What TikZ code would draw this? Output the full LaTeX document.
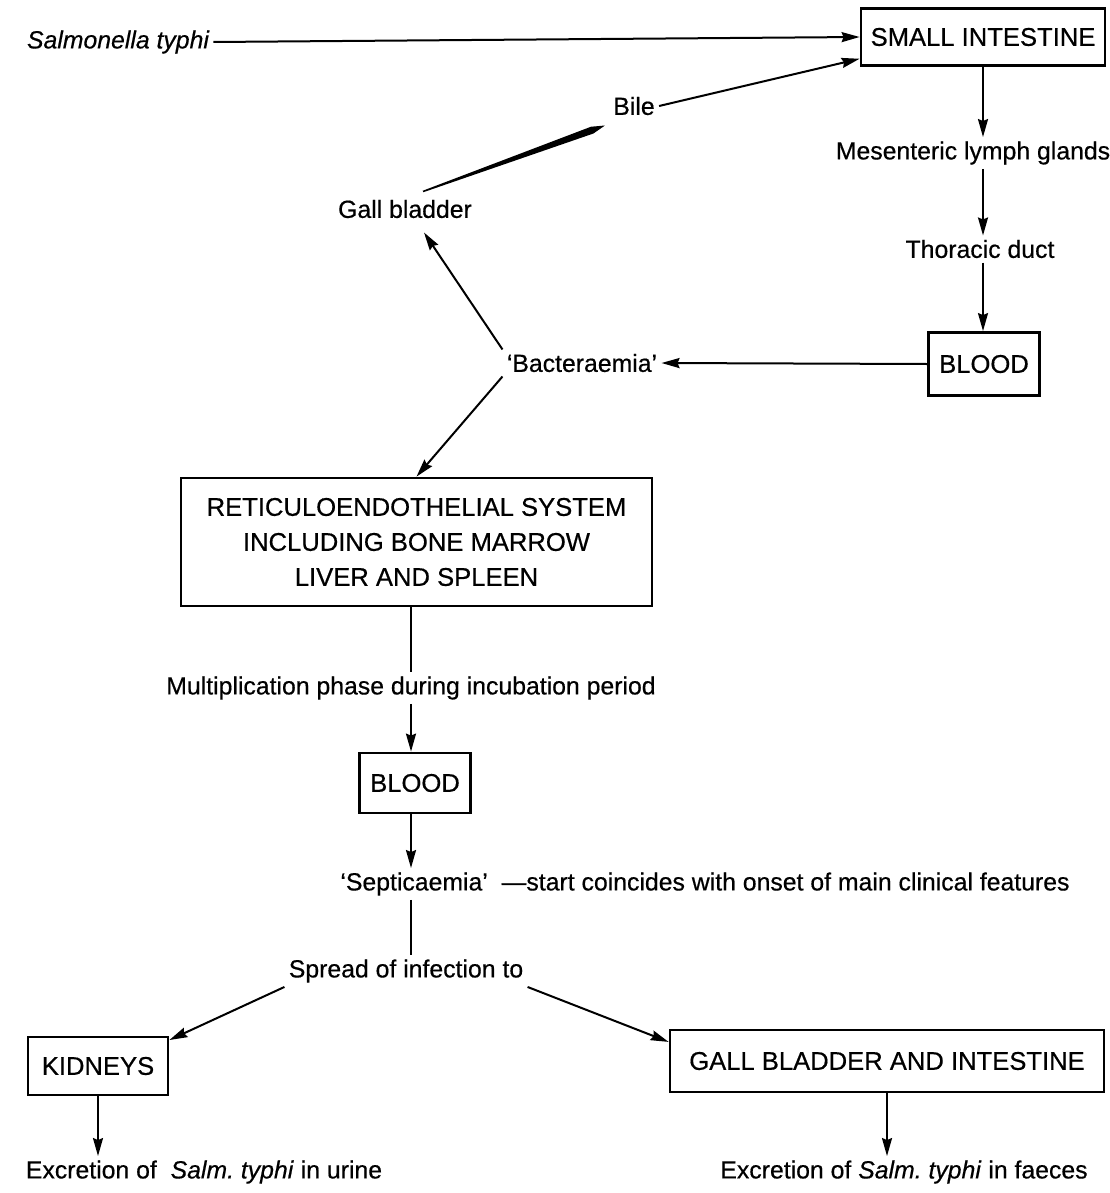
\documentclass[tikz,border=0pt]{standalone}
\usepackage{fontspec}
\setmainfont{Liberation Sans}[FakeBold=0.5]
\usepackage{tikz}
\usetikzlibrary{arrows.meta, positioning, calc}

\begin{document}
\begin{tikzpicture}[
    x=0.5pt, y=-0.5pt,
    organ/.style={rectangle, draw, line width=1.4pt, inner sep=0pt, font=\fontsize{12.8}{17.5}\selectfont, align=center},
    stage/.style={inner sep=2pt, font=\fontsize{12.4}{14}\selectfont},
    arr/.style={-{Stealth[length=9pt, width=5pt, inset=1pt]}, line width=1pt},
    link/.style={line width=1pt}
]
\useasboundingbox (0,0) rectangle (1109,1193);

% Entry and lymphatic route
\node[stage, font=\fontsize{12.4}{14}\selectfont\itshape] (salm) at (118,42) {Salmonella typhi};
\node[organ, minimum width=122pt, minimum height=28.5pt] (smallint) at (983,37) {SMALL INTESTINE};
\node[stage] (mes) at (973,153) {Mesenteric lymph glands};
\node[stage] (thor) at (980,249) {Thoracic duct};
\node[organ, minimum width=55.5pt, minimum height=31.5pt] (blood1) at (984,364) {BLOOD};

% Bacteraemia and bile loop
\node[stage] (bact) at (582,363) {‘Bacteraemia’};
\node[stage] (gall) at (405,209) {Gall bladder};
\node[stage] (bile) at (634,106) {Bile};

% Incubation
\node[organ, minimum width=235.5pt, minimum height=64pt] (res) at (416.5,542) {RETICULOENDOTHELIAL SYSTEM\\INCLUDING BONE MARROW\\LIVER AND SPLEEN};
\node[stage] (mult) at (411,688) {Multiplication phase during incubation period};
\node[organ, minimum width=55.5pt, minimum height=30pt] (blood2) at (415,783) {BLOOD};
\node[stage, anchor=west] (sept) at (336,884) {‘Septicaemia’ \ —start coincides with onset of main clinical features};
\node[stage] (spread) at (406,971) {Spread of infection to};

% Excretion
\node[organ, minimum width=70pt, minimum height=29pt] (kidneys) at (98,1066) {KIDNEYS};
\node[organ, minimum width=217pt, minimum height=31pt] (gbi) at (887,1061) {GALL BLADDER AND INTESTINE};
\node[stage] (urine) at (204,1172) {Excretion of \ \textit{Salm.\ typhi} in urine};
\node[stage] (faeces) at (904,1172) {Excretion of \textit{Salm.\ typhi} in faeces};

% Connections
\draw[arr] (salm.east) -- (smallint.west);
\draw[arr] (bile.east) -- (smallint.190);
\draw[arr] (smallint.south) -- (smallint.south |- mes.north);
\draw[arr] (mes.south -| smallint.south) -- (thor.north -| smallint.south);
\draw[arr] (thor.south -| smallint.south) -- (blood1.north -| smallint.south);
\draw[arr] (blood1.west) -- (bact.east);
\draw[arr] (bact.north west) -- ($(gall.south)+(19,10)$);
\draw[arr] (bact.south west) -- (res.north);

% tapered stroke gall bladder -> bile
\coordinate (gbtail) at ($(gall.north)+(18,-4)$);
\coordinate (biletip) at ($(bile.south west)+(-4,6)$);
\coordinate (gbmid) at ($(gbtail)!0.93!(biletip)$);
\fill ($(gbtail)!0.4pt!90:(biletip)$) -- ($(gbmid)!1.8pt!90:(biletip)$) -- (biletip)
    -- ($(gbmid)!1.8pt!-90:(biletip)$) -- ($(gbtail)!0.4pt!-90:(biletip)$) -- cycle;

\draw[link] (res.south -| mult.north) -- (mult.north);
\draw[arr] (mult.south) -- (mult.south |- blood2.north);
\draw[arr] (blood2.south -| mult.south) -- (mult.south |- sept.north);
\draw[link] (mult.south |- sept.south) -- (mult.south |- spread.north);
\draw[arr] (spread.south west) -- (kidneys.20);
\draw[arr] (spread.south east) -- (gbi.175);
\draw[arr] (kidneys.south) -- (kidneys.south |- urine.north);
\draw[arr] (gbi.south) -- (gbi.south |- faeces.north);
\end{tikzpicture}
\end{document}
